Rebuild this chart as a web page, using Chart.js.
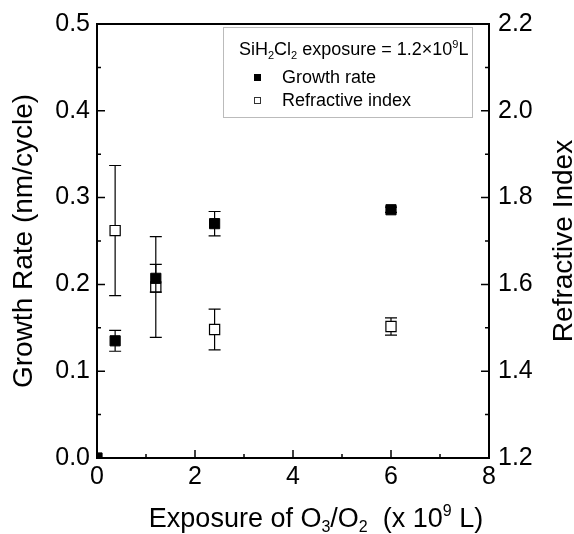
<!DOCTYPE html>
<html>
<head>
<meta charset="utf-8">
<script src="https://cdn.jsdelivr.net/npm/chart.js@4/dist/chart.umd.min.js"></script>
<style>
  html, body { margin: 0; padding: 0; background: #fff; }
</style>
</head>
<body>
<canvas id="chart" width="574" height="534"></canvas>
<script>
/**
 * Data.
 */
const growthExposure = [0, 0.37, 1.2, 2.4, 6];
const growthRate = [0, 0.135, 0.207, 0.270, 0.286];
const growthErr = [0, 0.012, 0.016, 0.014, 0.003];

const indexExposure = [0.37, 1.2, 2.4, 6];
const refractiveIndex = [1.724, 1.594, 1.496, 1.503];
const indexErr = [0.150, 0.116, 0.047, 0.020];

const xTicks = [0, 2, 4, 6, 8];
const rateTicks = [0.0, 0.1, 0.2, 0.3, 0.4, 0.5];
const indexTicks = [1.2, 1.4, 1.6, 1.8, 2.0, 2.2];

const FONT = '"Liberation Sans", Arial, sans-serif';

/**
 * Draw text with sub/superscript parts.
 */
function drawRich(ctx, parts, x, y, size, align) {
  const small = Math.round(size * 0.6);
  let total = 0;
  parts.forEach((p) => {
    ctx.font = `${p.sub || p.sup ? small : size}px ${FONT}`;
    total += ctx.measureText(p.t).width;
  });
  let cx = align === 'center' ? x - total / 2 : x;
  ctx.textAlign = 'left';
  ctx.textBaseline = 'alphabetic';
  parts.forEach((p) => {
    ctx.font = `${p.sub || p.sup ? small : size}px ${FONT}`;
    let dy = 0;
    if (p.sub) dy = size * 0.2;
    if (p.sup) dy = -size * 0.4;
    ctx.fillText(p.t, cx, y + dy);
    cx += ctx.measureText(p.t).width;
  });
}

/**
 * Error bars, drawn before each dataset's points.
 */
const errorBars = {
  id: 'errorBars',
  beforeDatasetDraw(chart, args) {
    const ds = chart.data.datasets[args.index];
    if (!ds.errors) return;
    const { ctx, chartArea } = chart;
    const xs = chart.scales.x;
    const ys = chart.scales[ds.yAxisID];
    ctx.save();
    ctx.beginPath();
    ctx.rect(chartArea.left, chartArea.top, chartArea.right - chartArea.left, chartArea.bottom - chartArea.top);
    ctx.clip();
    ctx.strokeStyle = '#000';
    ctx.lineWidth = 1.2;
    ds.data.forEach((pt, i) => {
      const e = ds.errors[i];
      if (!e) return;
      const px = xs.getPixelForValue(pt.x);
      const top = ys.getPixelForValue(pt.y + e);
      const bot = ys.getPixelForValue(pt.y - e);
      ctx.beginPath();
      ctx.moveTo(px, top);
      ctx.lineTo(px, bot);
      ctx.moveTo(px - 6, top);
      ctx.lineTo(px + 6, top);
      ctx.moveTo(px - 6, bot);
      ctx.lineTo(px + 6, bot);
      ctx.stroke();
    });
    ctx.restore();
  },
};

/**
 * Frame, inward ticks, axis titles and the legend box.
 */
const decorations = {
  id: 'decorations',
  afterDraw(chart) {
    const { ctx, chartArea: a } = chart;
    const { x, y, y2 } = chart.scales;
    ctx.save();
    ctx.strokeStyle = '#000';
    ctx.lineWidth = 2;
    ctx.strokeRect(a.left, a.top, a.right - a.left, a.bottom - a.top);

    ctx.lineWidth = 1.5;
    ctx.beginPath();
    for (let v = 0; v <= 8; v += 1) {
      const px = x.getPixelForValue(v);
      const len = v % 2 === 0 ? 8 : 4;
      ctx.moveTo(px, a.bottom);
      ctx.lineTo(px, a.bottom - len);
    }
    for (let k = 0; k <= 10; k += 1) {
      const py = y.getPixelForValue(k * 0.05);
      const len = k % 2 === 0 ? 8 : 4;
      ctx.moveTo(a.left, py);
      ctx.lineTo(a.left + len, py);
    }
    for (let k = 0; k <= 10; k += 1) {
      const py = y2.getPixelForValue(1.2 + k * 0.1);
      const len = k % 2 === 0 ? 8 : 4;
      ctx.moveTo(a.right, py);
      ctx.lineTo(a.right - len, py);
    }
    ctx.stroke();

    ctx.fillStyle = '#000';
    ctx.font = `28px ${FONT}`;
    ctx.textAlign = 'center';
    ctx.textBaseline = 'alphabetic';

    ctx.save();
    ctx.translate(32, (a.top + a.bottom) / 2);
    ctx.rotate(-Math.PI / 2);
    ctx.fillText('Growth Rate (nm/cycle)', 0, 0);
    ctx.restore();

    ctx.save();
    ctx.translate(572, (a.top + a.bottom) / 2);
    ctx.rotate(-Math.PI / 2);
    ctx.fillText('Refractive Index', 0, 0);
    ctx.restore();

    drawRich(ctx, [
      { t: 'Exposure of O' }, { t: '3', sub: true }, { t: '/O' }, { t: '2', sub: true },
      { t: '  (x 10' }, { t: '9', sup: true }, { t: ' L)' },
    ], 316, 527, 27, 'center');

    /**
     * Legend box.
     */
    ctx.strokeStyle = '#777';
    ctx.lineWidth = 1;
    ctx.setLineDash([1, 1]);
    ctx.strokeRect(223.5, 27.5, 249, 90);
    ctx.setLineDash([]);

    ctx.fillStyle = '#000';
    drawRich(ctx, [
      { t: 'SiH' }, { t: '2', sub: true }, { t: 'Cl' }, { t: '2', sub: true },
      { t: ' exposure = 1.2\u00d710' }, { t: '9', sup: true }, { t: 'L' },
    ], 239, 55, 18, 'left');

    ctx.fillRect(254, 74, 7, 7);
    ctx.strokeStyle = '#333';
    ctx.strokeRect(254.5, 97.5, 6, 6);

    ctx.font = `18px ${FONT}`;
    ctx.textAlign = 'left';
    ctx.fillText('Growth rate', 282, 83);
    ctx.fillText('Refractive index', 282, 106);
    ctx.restore();
  },
};

/**
 * Build datasets from the arrays.
 */
const growthPoints = growthExposure.map((v, i) => ({ x: v, y: growthRate[i] }));
const indexPoints = indexExposure.map((v, i) => ({ x: v, y: refractiveIndex[i] }));

const tickFont = { family: FONT, size: 25 };

new Chart(document.getElementById('chart'), {
  type: 'scatter',
  data: {
    datasets: [
      {
        label: 'Growth rate',
        data: growthPoints,
        errors: growthErr,
        yAxisID: 'y',
        pointStyle: 'rect',
        pointRadius: 7.2,
        backgroundColor: '#000',
        borderColor: '#000',
        borderWidth: 1,
        clip: 0,
      },
      {
        label: 'Refractive index',
        data: indexPoints,
        errors: indexErr,
        yAxisID: 'y2',
        pointStyle: 'rect',
        pointRadius: 7.2,
        backgroundColor: '#fff',
        borderColor: '#000',
        borderWidth: 1.2,
        clip: 0,
      },
    ],
  },
  options: {
    responsive: false,
    animation: false,
    devicePixelRatio: 1,
    layout: { padding: { top: 18, left: 0, right: 0, bottom: 0 }, autoPadding: false },
    plugins: {
      legend: { display: false },
      tooltip: { enabled: false },
    },
    scales: {
      x: {
        type: 'linear',
        min: 0,
        max: 8,
        grid: { display: false, drawTicks: false },
        border: { display: false },
        afterBuildTicks: (s) => { s.ticks = xTicks.map((v) => ({ value: v })); },
        afterFit: (s) => { s.height = 76; },
        ticks: { color: '#000', font: tickFont, padding: 4, maxRotation: 0 },
      },
      y: {
        position: 'left',
        min: 0,
        max: 0.5,
        grid: { display: false, drawTicks: false },
        border: { display: false },
        afterBuildTicks: (s) => { s.ticks = rateTicks.map((v) => ({ value: v })); },
        afterFit: (s) => { s.width = 97; },
        ticks: { color: '#000', font: tickFont, padding: 7, callback: (v) => Number(v).toFixed(1) },
      },
      y2: {
        position: 'right',
        min: 1.2,
        max: 2.2,
        grid: { display: false, drawTicks: false },
        border: { display: false },
        afterBuildTicks: (s) => { s.ticks = indexTicks.map((v) => ({ value: v })); },
        afterFit: (s) => { s.width = 85; },
        ticks: { color: '#000', font: tickFont, padding: 9, callback: (v) => Number(v).toFixed(1) },
      },
    },
  },
  plugins: [errorBars, decorations],
});
</script>
</body>
</html>
